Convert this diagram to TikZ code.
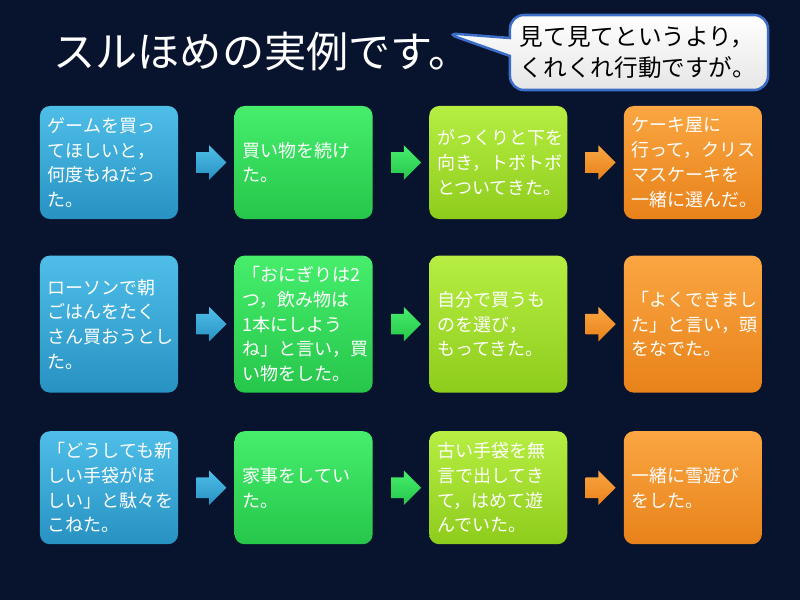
\documentclass[tikz,border=0pt]{standalone}
\usepackage{xcolor}
\usepackage{fontspec}
\setmainfont{Noto Sans CJK JP}
\usepackage{tikz}
\usetikzlibrary{arrows.meta,positioning,shapes.arrows,shapes.callouts}

\definecolor{bgnavy}{RGB}{8,19,46}
\definecolor{skytop}{RGB}{78,190,232}
\definecolor{skybot}{RGB}{40,146,194}
\definecolor{grasstop}{RGB}{70,238,108}
\definecolor{grassbot}{RGB}{38,198,74}
\definecolor{limetop}{RGB}{182,238,66}
\definecolor{limebot}{RGB}{142,204,28}
\definecolor{orangetop}{RGB}{250,166,66}
\definecolor{orangebot}{RGB}{232,130,26}
\definecolor{callline}{RGB}{60,110,200}

\begin{document}
\begin{tikzpicture}[
			x=0.025cm, y=-0.025cm,
			node distance=1.4cm,
			box/.style={rounded corners=0.25cm,minimum width=3.45cm,minimum height=2.825cm,
				text width=3.05cm,inner xsep=0.2cm,inner ysep=0.1cm,align=left,
				text=white,font=\fontsize{12.8}{17.6}\selectfont},
			tall/.style={minimum height=3.425cm},
			skybox/.style={top color=skytop,bottom color=skybot},
			grassbox/.style={top color=grasstop,bottom color=grassbot},
			limebox/.style={top color=limetop,bottom color=limebot},
			orangebox/.style={top color=orangetop,bottom color=orangebot},
			go/.style={single arrow,draw=none,inner xsep=0pt,inner ysep=0.25cm,
				minimum height=0.75cm,single arrow head extend=0.175cm}
		]
		\fill[bgnavy] (0,0) rectangle (800,600);

		\node[anchor=west,inner sep=0pt,text=white,font=\fontsize{30}{36}\selectfont] (title) at (53,52) {スルほめの実例です。};
		\coordinate (tip) at (445,33);
		\node[rectangle callout,callout absolute pointer={(tip)},callout pointer width=0.45cm,
			rounded corners=0.35cm,draw=callline,line width=1.8pt,top color=white,bottom color=black!10,
			minimum width=6.45cm,minimum height=1.875cm,text width=5.95cm,align=left,
			font=\fontsize{16.8}{22}\selectfont] (say) at (639,52.5) {見て見てというより，\\くれくれ行動ですが。};

		% row 1
		\node[box,skybox] (b11) at (109,162.5) {ゲームを買っ\\てほしいと，\\何度もねだっ\\た。};
		\node[box,grassbox,right=of b11] (b12) {買い物を続け\\た。};
		\node[box,limebox,right=of b12] (b13) {がっくりと下を\\向き，トボトボ\\とついてきた。};
		\node[box,orangebox,right=of b13] (b14) {ケーキ屋に\\行って，クリス\\マスケーキを\\一緒に選んだ。};

		% row 2
		\node[box,tall,skybox,below=0.9cm of b11] (b21) {ローソンで朝\\ごはんをたく\\さん買おうとし\\た。};
		\node[box,tall,grassbox,right=of b21] (b22) {「おにぎりは2\\つ，飲み物は\\1本にしよう\\ね」と言い，買\\い物をした。};
		\node[box,tall,limebox,right=of b22] (b23) {自分で買うも\\のを選び，\\もってきた。};
		\node[box,tall,orangebox,right=of b23] (b24) {「よくできまし\\た」と言い，頭\\をなでた。};

		% row 3
		\node[box,skybox,below=0.95cm of b21] (b31) {「どうしても新\\しい手袋がほ\\しい」と駄々を\\こねた。};
		\node[box,grassbox,right=of b31] (b32) {家事をしてい\\た。};
		\node[box,limebox,right=of b32] (b33) {古い手袋を無\\言で出してき\\て，はめて遊\\んでいた。};
		\node[box,orangebox,right=of b33] (b34) {一緒に雪遊び\\をした。};

		\foreach \r in {1,2,3} {
			\path (b\r1) -- node[go,skybox] (g\r1) {} (b\r2);
			\path (b\r2) -- node[go,grassbox] (g\r2) {} (b\r3);
			\path (b\r3) -- node[go,orangebox] (g\r3) {} (b\r4);
		}
	\end{tikzpicture}
\end{document}
